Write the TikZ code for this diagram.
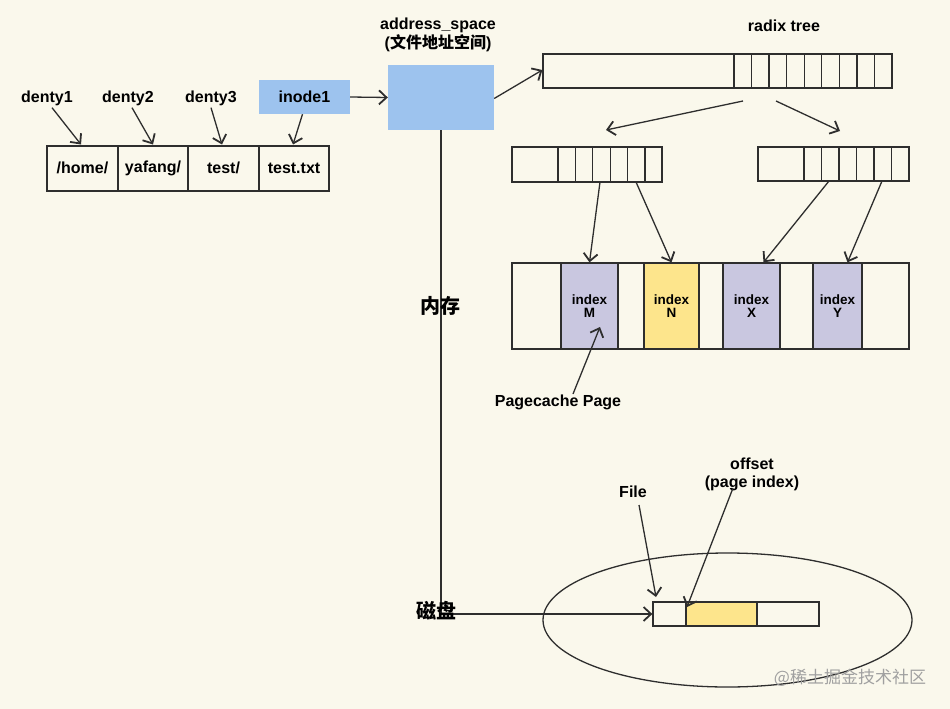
\documentclass[tikz,border=0pt]{standalone}
\usepackage{fontspec}
\setmainfont{Liberation Sans}
\newfontfamily\cjk{Noto Sans CJK SC}
\usetikzlibrary{arrows.meta,shapes.geometric}
\definecolor{bg}{HTML}{FAF8EC}
\definecolor{ln}{HTML}{2E2E2E}
\definecolor{blu}{HTML}{9DC3EE}
\definecolor{lav}{HTML}{C9C7E0}
\definecolor{yel}{HTML}{FDE58C}
\definecolor{wm}{HTML}{A0A0A0}
\begin{document}
\begin{tikzpicture}[x=1pt,y=-1pt,
  lbl/.style={font=\fontsize{16}{18}\selectfont\bfseries, inner sep=0, align=center, text=black},
  cjklbl/.style={font=\cjk\fontsize{20}{22}\selectfont\bfseries, inner sep=0, text=black},
  cell/.style={draw=ln, line width=2pt, minimum height=45pt, inner sep=0, font=\fontsize{16}{18}\selectfont\bfseries},
  arr/.style={draw=ln, line width=1.3pt, -{Straight Barb[length=7.5pt,width=14pt,line width=1.8pt]}},
  box/.style={draw=ln, line width=1.3pt, inner sep=0},
  idx/.style={box, font=\fontsize{13.5}{12.5}\selectfont\bfseries, align=center, minimum height=86pt},
  divider/.style={draw=ln, line width=1.3pt}
]
\fill[bg] (0,0) rectangle (950,709);
\useasboundingbox (0,0) rectangle (950,709);

% path cells
\node[cell, minimum width=71pt] (home) at (82.5,168) {/home/};
\node[cell, minimum width=70pt] (yafang) at (153,168) {yafang/};
\node[cell, minimum width=71pt] (test) at (223.5,168) {test/};
\node[cell, minimum width=70pt] (testtxt) at (294,168) {test.txt};

% dentry labels
\node[lbl] (d1) at (47,98) {denty1};
\node[lbl] (d2) at (128,98) {denty2};
\node[lbl] (d3) at (211,98) {denty3};
\node[fill=blu, minimum width=91pt, minimum height=34pt, inner sep=0, font=\fontsize{16}{18}\selectfont\bfseries] (inode) at (304.5,97) {inode1};

\draw[arr] ([xshift=5pt,yshift=-2pt]d1.south) -- ([xshift=-1.5pt]home.north);
\draw[arr] ([xshift=4pt,yshift=-2pt]d2.south) -- (yafang.north);
\draw[arr] ([yshift=-2pt]d3.south) -- ([xshift=-1.5pt]test.north);
\draw[arr] ([xshift=-2pt]inode.south) -- ([xshift=-1pt]testtxt.north);

% address space
\node[fill=blu, minimum width=106pt, minimum height=65pt, inner sep=0] (addr) at (441,97.5) {};
\node[lbl, font=\fontsize{16}{19}\selectfont\bfseries] (addrlbl) at (438,35) {address\_space\\({\cjk\bfseries 文件地址空间})};
\draw[arr] (inode.east) -- (addr.west);

% radix tree
\node[lbl] (rtlbl) at (784,26) {radix tree};
\node[box, minimum width=349pt, minimum height=34pt] (rt) at (717.5,71) {};
\foreach \i in {0,...,8} \draw[divider] ({734+17.55*\i},54) -- ++(0,34);
\draw[arr] ([yshift=-1pt]addr.east) -- ([yshift=1pt]rt.west);

\node[box, minimum width=150pt, minimum height=35pt] (nl) at (587,164.5) {};
\foreach \i in {0,...,5} \draw[divider] ({558+17.4*\i},147) -- ++(0,35);
\node[box, minimum width=151pt, minimum height=34pt] (nr) at (833.5,164) {};
\foreach \i in {0,...,5} \draw[divider] ({804+17.5*\i},147) -- ++(0,34);

\coordinate (rtA) at (743,101);
\coordinate (rtB) at (776,101);
\coordinate (nlT) at (606,130);
\coordinate (nrT) at (840,131);
\draw[arr] (rtA) -- (nlT);
\draw[arr] (rtB) -- (nrT);

% page cache row
\node[box, minimum width=397pt, minimum height=86pt] (pc) at (710.5,306) {};
\node[idx, fill=lav, minimum width=57pt] (pM) at (589.5,306) {index\\M};
\node[idx, fill=yel, minimum width=55pt] (pN) at (671.5,306) {index\\N};
\node[idx, fill=lav, minimum width=57pt] (pX) at (751.5,306) {index\\X};
\node[idx, fill=lav, minimum width=49pt] (pY) at (837.5,306) {index\\Y};

\coordinate (nlA) at (600,182);
\coordinate (nlB) at (636,182);
\coordinate (nrA) at (829,181);
\coordinate (nrB) at (882,181);
\draw[arr] (nlA) -- (pM.north);
\draw[arr] (nlB) -- (pN.north);
\draw[arr] (nrA) -- ([xshift=12pt]pX.north);
\draw[arr] (nrB) -- ([xshift=10pt]pY.north);

\node[lbl] (pcp) at (558,402) {Pagecache Page};
\coordinate (pcpA) at (573,394);
\coordinate (pMin) at (600,327);
\draw[arr] (pcpA) -- (pMin);

% disk
\node[draw=ln, line width=1.3pt, ellipse, minimum width=369pt, minimum height=134pt, inner sep=0] (disk) at (727.5,620) {};
\node[box, minimum width=33pt, minimum height=24pt] (f1) at (669.5,614) {};
\node[box, fill=yel, minimum width=71pt, minimum height=24pt] (f2) at (721.5,614) {};
\node[box, minimum width=62pt, minimum height=24pt] (f3) at (788,614) {};

\draw[arr] (addr.south) |- (f1.west);
\node[cjklbl] (mem) at (440,306) {内存};
\node[cjklbl] (dsk) at (436,611) {磁盘};

\node[lbl] (filel) at (633,492) {File};
\coordinate (fileA) at (639,505);
\coordinate (fileT) at (656,597);
\draw[arr] (fileA) -- (fileT);

\node[lbl] (offl) at (752,474) {offset\\(page index)};
\coordinate (offA) at (733,488);
\coordinate (offT) at (687,607);
\draw[arr] (offA) -- (offT);

\node[font=\cjk\fontsize{17}{19}\selectfont, text=wm, inner sep=0] (wmk) at (850,678) {@稀土掘金技术社区};
\end{tikzpicture}
\end{document}
